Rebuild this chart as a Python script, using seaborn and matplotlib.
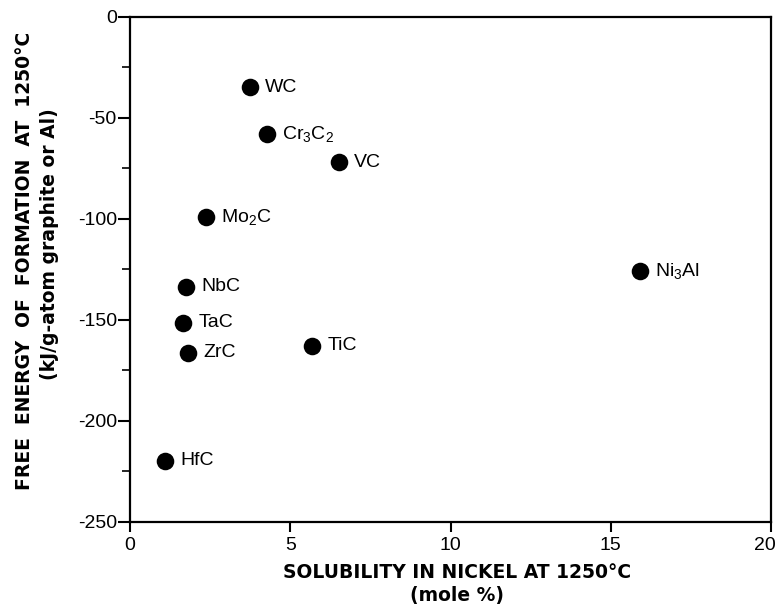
import matplotlib
matplotlib.use("Agg")
import matplotlib.pyplot as plt
import seaborn as sns
import pandas as pd
from matplotlib.ticker import MultipleLocator, FuncFormatter

compounds = ["WC", r"Cr$_3$C$_2$", "VC", r"Mo$_2$C", "NbC", "TaC", "ZrC", "TiC", "HfC", r"Ni$_3$Al"]
solubility = [3.74, 4.27, 6.52, 2.37, 1.75, 1.66, 1.81, 5.68, 1.09, 15.91]
free_energy = [-34.8, -58.0, -71.9, -99.0, -133.7, -151.5, -166.3, -162.8, -219.7, -125.8]

df = pd.DataFrame({"x": solubility, "y": free_energy, "name": compounds})

sns.set_style("ticks")
plt.rcParams["font.family"] = ["Liberation Sans", "DejaVu Sans"]
plt.rcParams["mathtext.fontset"] = "custom"
plt.rcParams["mathtext.rm"] = "Liberation Sans"
plt.rcParams["mathtext.it"] = "Liberation Sans"
plt.rcParams["mathtext.default"] = "regular"
plt.rcParams["axes.unicode_minus"] = False
plt.rcParams["text.color"] = "black"
plt.rcParams["axes.labelcolor"] = "black"
plt.rcParams["xtick.color"] = "black"
plt.rcParams["ytick.color"] = "black"
plt.rcParams["axes.edgecolor"] = "black"

fig = plt.figure(figsize=(7.78, 6.05), dpi=100)
ax = fig.add_axes([0.1671, 0.1372, 0.824, 0.8352])

sns.scatterplot(data=df, x="x", y="y", ax=ax, s=160, color="black",
                edgecolor="black", linewidth=0, legend=False, zorder=3)

for x, y, name in zip(df["x"], df["y"], df["name"]):
    ax.annotate(name, (x, y), xytext=(11, 0), textcoords="offset points",
                fontsize=14, va="center", ha="left", color="black")

ax.set_xlim(0, 20)
ax.set_ylim(-250, 0)
ax.xaxis.set_major_locator(MultipleLocator(5))
ax.yaxis.set_major_locator(MultipleLocator(50))
ax.yaxis.set_minor_locator(MultipleLocator(25))

# the "20" label is drawn separately, nudged left like in the original
xmax = 20
ax.xaxis.set_major_formatter(FuncFormatter(lambda v, p: "" if v >= xmax else f"{v:g}"))
ax.annotate(f"{xmax}", xy=(xmax, 0), xycoords=ax.get_xaxis_transform(),
            xytext=(-4.5, -11), textcoords="offset points",
            ha="center", va="top", fontsize=14)

ax.tick_params(axis="x", which="major", length=7.5, width=1.5, labelsize=14,
               direction="out", pad=3.5)
ax.tick_params(axis="y", which="major", length=8.5, width=1.5, labelsize=14,
               direction="out", pad=1)
ax.tick_params(axis="y", which="minor", length=6, width=1.2, direction="out")

for sp in ax.spines.values():
    sp.set_linewidth(1.6)
    sp.set_visible(True)

bold = dict(fontsize=13.5, fontweight="bold", family="DejaVu Sans",
            ha="center", va="center", transform=ax.transAxes)
ax.text(0.510, -0.099, "SOLUBILITY IN NICKEL AT 1250\u00b0C", **bold)
ax.text(0.510, -0.1445, "(mole %)", **bold)
ax.text(-0.165, 0.5165, "FREE  ENERGY  OF  FORMATION  AT  1250\u00b0C",
        rotation=90, **bold)
ax.text(-0.126, 0.55, "(kJ/g-atom graphite or Al)", rotation=90, **bold)
ax.set_xlabel("")
ax.set_ylabel("")

fig.savefig("out.png", dpi=100)
